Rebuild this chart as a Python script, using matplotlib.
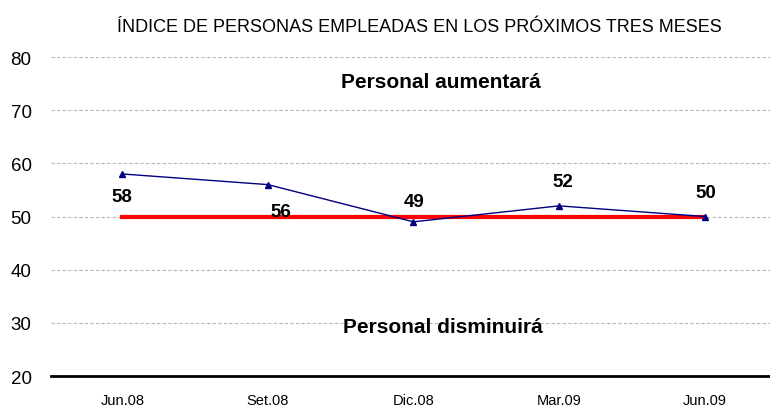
import matplotlib
matplotlib.use('Agg')
import matplotlib.pyplot as plt

# Data
periods = ['Jun.08', 'Set.08', 'Dic.08', 'Mar.09', 'Jun.09']
index_values = [58, 56, 49, 52, 50]
neutral_level = [50, 50, 50, 50, 50]
label_offsets = [(0, -23), (13, -27), (1, 20), (4, 24), (1, 24)]

plt.rcParams['font.family'] = ['Liberation Sans', 'DejaVu Sans']

fig = plt.figure(figsize=(7.7, 4.1), dpi=100)
ax = fig.add_axes([51 / 770, 1 - 377 / 410, 1 - 51 / 770, (377 - 58) / 410])

x = list(range(len(periods)))

# dashed gridlines
for yv in [30, 40, 50, 60, 70, 80]:
    ax.axhline(yv, color='#b8b8b8', lw=0.8, ls=(0, (3, 2)), zorder=0)

ax.plot(x, neutral_level, color='red', lw=3, zorder=2)
ax.plot(x, index_values, color='#000080', lw=1, marker='^', markersize=5, zorder=3)

for xi, v, off in zip(x, index_values, label_offsets):
    ax.annotate(str(v), (xi, v), xytext=off, textcoords='offset pixels',
                ha='center', va='center', fontsize=13.5, fontweight='bold', zorder=4)

ax.text(2.19, 75.3, 'Personal aumentará', ha='center', va='center',
        fontsize=15, fontweight='bold')
ax.text(2.2, 29.25, 'Personal disminuirá', ha='center', va='center',
        fontsize=15, fontweight='bold')

ax.set_xlim(-0.49, 4.45)
ax.set_ylim(20, 80)
ax.set_yticks([20, 30, 40, 50, 60, 70, 80])
ax.set_xticks(x)
ax.set_xticklabels(periods, fontsize=10.5)
for lab in ax.get_yticklabels():
    lab.set_fontsize(13.5)

for s in ['left', 'right', 'top']:
    ax.spines[s].set_visible(False)
ax.spines['bottom'].set_linewidth(2)
ax.tick_params(axis='both', length=0)
ax.tick_params(axis='x', pad=12)
ax.tick_params(axis='y', pad=14)

fig.text(419 / 770, 1 - 27 / 410, 'ÍNDICE DE PERSONAS EMPLEADAS EN LOS PRÓXIMOS TRES MESES',
         ha='center', va='center', fontsize=13)

fig.savefig('out.png', dpi=100)
